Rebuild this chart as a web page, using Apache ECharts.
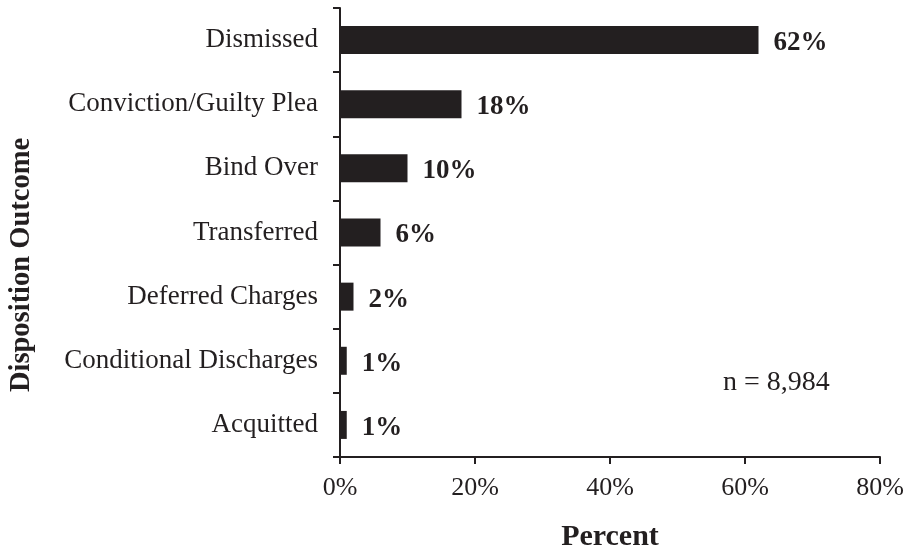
<!DOCTYPE html>
<html>
<head>
<meta charset="utf-8">
<script src="https://cdn.jsdelivr.net/npm/echarts@6/dist/echarts.min.js"></script>
<style>html,body{margin:0;padding:0;background:#fff}#c{width:907px;height:552px}</style>
</head>
<body>
<div id="c"></div>
<script>
var categories = ['Dismissed', 'Conviction/Guilty Plea', 'Bind Over', 'Transferred', 'Deferred Charges', 'Conditional Discharges', 'Acquitted'];
var percents = [62, 18, 10, 6, 2, 1, 1];
var xTicks = [0, 20, 40, 60, 80];
var noteText = 'n = 8,984';
var xTitle = 'Percent';
var yTitle = 'Disposition Outcome';

var ink = '#231f20';
var font = '"Liberation Serif", "Times New Roman", serif';
var chart = echarts.init(document.getElementById('c'), null, {renderer: 'canvas'});
chart.setOption({
  animation: false,
  backgroundColor: '#fff',
  textStyle: {fontFamily: font, color: ink},
  grid: {left: 340, right: 27, top: 8, bottom: 95, containLabel: false, outerBoundsMode: 'none'},
  xAxis: {
    type: 'value',
    min: xTicks[0], max: xTicks[xTicks.length - 1], interval: xTicks[1] - xTicks[0],
    axisLine: {show: true, lineStyle: {color: ink, width: 2}},
    axisTick: {show: true, length: 7, lineStyle: {color: ink, width: 2}},
    splitLine: {show: false},
    axisLabel: {formatter: '{value}%', fontFamily: font, fontSize: 26, color: ink, margin: 18},
    name: xTitle, nameLocation: 'middle', nameGap: 65,
    nameTextStyle: {fontFamily: font, fontSize: 30, fontWeight: 'bold', color: ink}
  },
  yAxis: {
    type: 'category', data: categories, inverse: true,
    axisLine: {show: true, lineStyle: {color: ink, width: 2}},
    axisTick: {show: true, length: 7, lineStyle: {color: ink, width: 2}},
    axisLabel: {fontFamily: font, fontSize: 27, color: ink, margin: 22, padding: [5, 0, 0, 0]}
  },
  series: [{
    type: 'bar', data: percents, barWidth: 28,
    itemStyle: {color: ink},
    label: {show: true, position: 'right', distance: 15, offset: [0, 3], formatter: '{c}%',
      fontFamily: font, fontSize: 27, fontWeight: 'bold', color: ink}
  }],
  graphic: [{
    type: 'text', left: 723, top: 369,
    style: {text: noteText, font: '28px ' + font, fill: ink}
  }, {
    type: 'text', x: 22, y: 265, rotation: Math.PI / 2,
    style: {text: yTitle, font: 'bold 28.5px ' + font, fill: ink, align: 'center', verticalAlign: 'middle'}
  }]
});
</script>
</body>
</html>
